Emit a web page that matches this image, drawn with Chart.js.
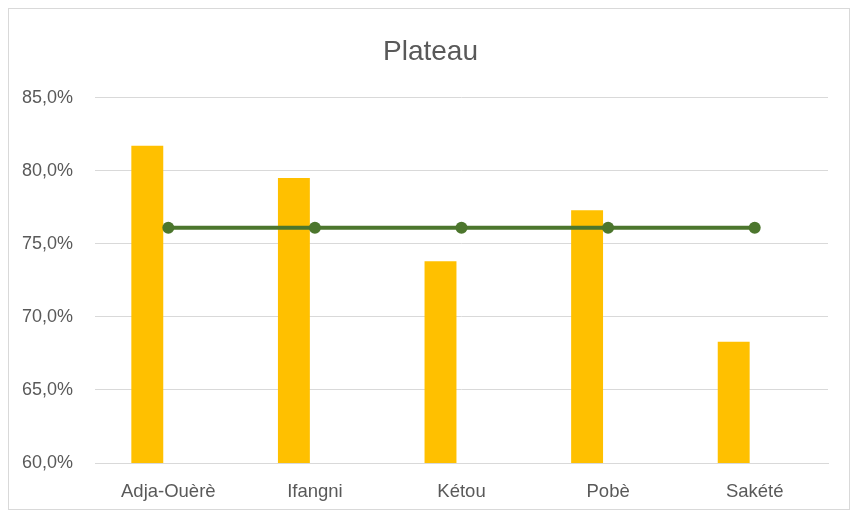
<!DOCTYPE html>
<html>
<head>
<meta charset="utf-8">
<script src="https://cdn.jsdelivr.net/npm/chart.js@4"></script>
<style>
  html, body { margin: 0; padding: 0; background: #fff; }
  #wrap { position: relative; width: 857px; height: 518px; }
</style>
</head>
<body>
<div id="wrap"><canvas id="plateau" width="857" height="518"></canvas></div>
<script>
    const communes = ['Adja-Ouèrè', 'Ifangni', 'Kétou', 'Pobè', 'Sakété'];
    const taux = [81.7, 79.5, 73.8, 77.3, 68.3];
    const moyenne = [76.1, 76.1, 76.1, 76.1, 76.1];
    const yTicks = [60, 65, 70, 75, 80, 85];

    // cadre gris autour du graphique + titre recentré
    const frame = {
        id: 'frame',
        afterLayout(chart) {
            if (chart.titleBlock) chart.titleBlock.left = 33;
        },
        beforeDraw(chart) {
            const c = chart.ctx;
            c.save();
            c.fillStyle = '#fff';
            c.fillRect(0, 0, chart.width, chart.height);
            c.strokeStyle = '#d9d9d9';
            c.lineWidth = 1;
            c.strokeRect(8.5, 8.5, 841, 501);
            c.restore();
        }
    };

    const ctx = document.getElementById('plateau').getContext('2d');
    const chart = new Chart(ctx, {
        type: 'bar',
        data: {
            labels: communes,
            datasets: [
                {
                    type: 'line',
                    label: 'Moyenne',
                    data: moyenne,
                    borderColor: '#4c762d',
                    backgroundColor: '#4c762d',
                    borderWidth: 4,
                    pointRadius: 6,
                    pointHoverRadius: 6,
                    pointBackgroundColor: '#4c762d',
                    pointBorderWidth: 0,
                    order: 0
                },
                {
                    label: 'Taux',
                    data: taux,
                    backgroundColor: '#ffc000',
                    order: 1
                },
                {
                    label: '',
                    data: [],
                    backgroundColor: '#ffc000',
                    order: 2
                }
            ]
        },
        options: {
            responsive: false,
            animation: false,
            categoryPercentage: 0.573,
            barPercentage: 0.76,
            layout: {
                padding: { left: 20, right: 29, top: 10, bottom: 0 }
            },
            plugins: {
                legend: { display: false },
                tooltip: { enabled: false },
                title: {
                    display: true,
                    text: 'Plateau',
                    color: '#595959',
                    font: { family: 'Liberation Sans', size: 28, weight: 'normal' },
                    padding: { top: 25, bottom: 29 }
                }
            },
            scales: {
                x: {
                    afterFit: function(scale) {
                        scale.height = 55;
                    },
                    grid: { display: false, drawTicks: false },
                    border: { display: true, color: '#d9d9d9', width: 1 },
                    ticks: {
                        color: '#595959',
                        padding: 18,
                        font: { family: 'Liberation Sans', size: 18.5 }
                    }
                },
                y: {
                    min: yTicks[0],
                    max: yTicks[yTicks.length - 1],
                    afterBuildTicks: function(scale) {
                        scale.ticks = yTicks.map(v => ({ value: v }));
                    },
                    afterFit: function(scale) {
                        scale.width = 75;
                    },
                    grid: { color: '#d9d9d9', drawTicks: false },
                    border: { display: false },
                    ticks: {
                        color: '#595959',
                        padding: 22,
                        font: { family: 'Liberation Sans', size: 18 },
                        callback: function(value) {
                            return value.toFixed(1).replace('.', ',') + '%';
                        }
                    }
                }
            }
        },
        plugins: [frame]
    });
</script>
</body>
</html>
